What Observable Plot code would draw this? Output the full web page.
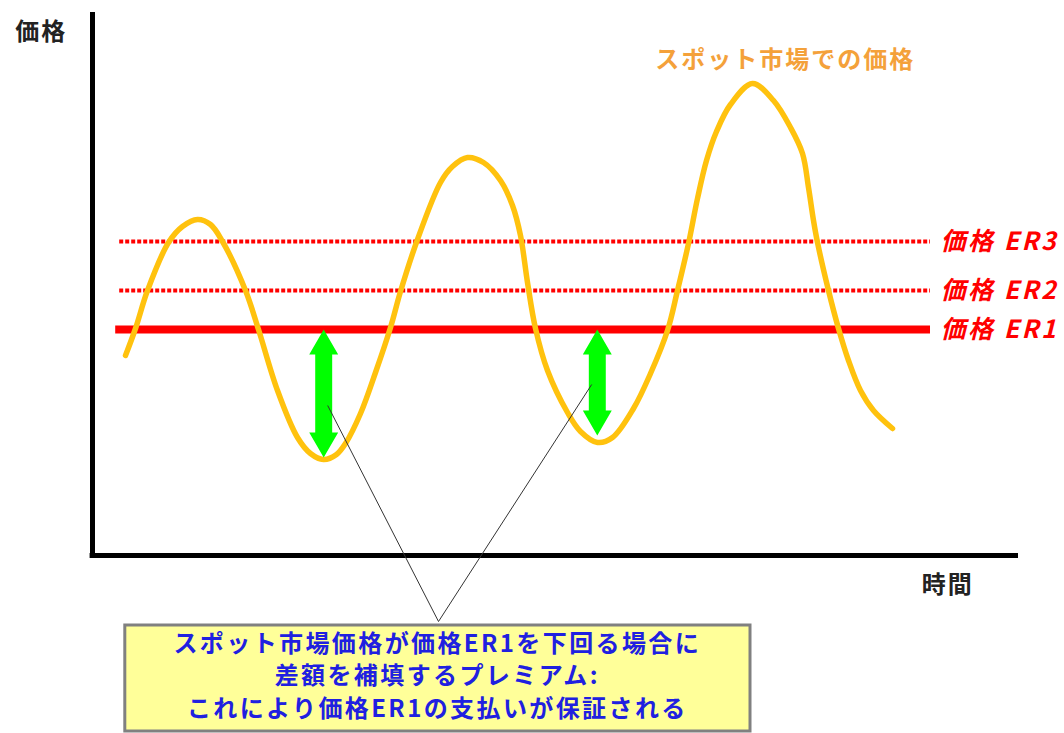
<!DOCTYPE html>
<html lang="ja">
<head>
<meta charset="utf-8">
<script src="https://cdn.jsdelivr.net/npm/d3@7"></script>
<script src="https://cdn.jsdelivr.net/npm/@observablehq/plot@0.6"></script>
<style>
  html, body { margin: 0; padding: 0; background: #fff; }
  #chart svg { display: block; }
</style>
</head>
<body>
<div id="chart"></div>
<script>
// Spot-market price over time (arbitrary time / price units)
const spotTime  = [4.125, 5.375, 6.875, 9.5, 11.25, 13.125, 14.75, 16.25, 19.125, 20.75, 23.125, 25.625, 27.25, 28.875, 30.5, 31.625, 33.5, 35.375, 37.25, 38.5, 40.625, 43.5, 45, 46.875, 48.875, 51, 52.5, 53.5, 54.375, 55.375, 56.875, 59.375, 61, 63.125, 65, 67.625, 69.75, 71.875, 73.125, 74.5, 75.625, 76.75, 78, 79.75, 82.5, 85.125, 87.25, 88.75, 89.5, 90.125, 90.625, 92, 93.25, 94.5, 96, 97.625, 100];
const spotPrice = [40, 45.4, 53, 62.6, 65.8, 67.2, 66.2, 62.8, 53, 45.2, 33, 23.6, 20.4, 19.2, 20.2, 22.4, 28.4, 36.6, 45.6, 52.8, 63.2, 74.6, 77.8, 79.6, 78.6, 75, 70, 64, 54.6, 45.4, 37, 28.6, 24.8, 22.6, 23.6, 29.4, 36.4, 45, 53, 62.4, 71.4, 79, 84.8, 90.2, 94.4, 91, 85.6, 80.4, 73.6, 67, 62.6, 53, 45.4, 39, 33, 29, 25.4];

// Guaranteed price levels
const levelNames = ["価格 ER1", "価格 ER2", "価格 ER3"];
const levelPrice = [45.2, 53, 62.8];
const levelSolid = [true, false, false];

// Premium arrows: where the spot price dips below ER1
const arrowTime = [28.9, 63.1];
const arrowLow  = [19.6, 24];

// Axis titles and annotation texts
const seriesLabel = "スポット市場での価格";
const yTitle = "価格";
const xTitle = "時間";
const noteLines = [
  "スポット市場価格が価格ER1を下回る場合に",
  "差額を補填するプレミアム:",
  "これにより価格ER1の支払いが保証される"
];

// ---- tables built from the arrays above ----
const spot = spotTime.map((t, i) => ({t, p: spotPrice[i]}));
const levels = levelNames.map((name, i) => ({name, p: levelPrice[i], solid: levelSolid[i]}));
const er1 = levelPrice[0];

// double-headed arrow outlines (shaft and head sizes in data units)
const shaftHalf = 1.06, headHalf = 1.81, headLen = 5;
const arrowShapes = arrowTime.flatMap((t, k) => {
  const top = er1, bot = arrowLow[k];
  const pts = [
    [t, top], [t + headHalf, top - headLen], [t + shaftHalf, top - headLen],
    [t + shaftHalf, bot + headLen], [t + headHalf, bot + headLen], [t, bot],
    [t - headHalf, bot + headLen], [t - shaftHalf, bot + headLen],
    [t - shaftHalf, top - headLen], [t - headHalf, top - headLen], [t, top]
  ];
  return pts.map(([x, y]) => ({k, x, y}));
});

// leader lines from each arrow to the note box
const apex = {t: 43.25, p: -13.2};
const leaderFrom = [{t: 29.4, p: 30}, {t: 62.4, p: 34.2}];
const leaders = leaderFrom.map(d => ({x1: d.t, y1: d.p, x2: apex.t, y2: apex.p}));

const box = [{x1: 4.1, x2: 82.25, y1: -14, y2: -35.2}];
const noteY = [-17.8, -24.2, -30.8];

const jp = "'Noto Sans CJK JP', 'Noto Sans', sans-serif";

const chart = Plot.plot({
  width: 1064,
  height: 733,
  marginLeft: 92,
  marginRight: 44,
  marginTop: 15,
  marginBottom: 178,
  x: {domain: [0, 116], axis: null},
  y: {domain: [0, 108], axis: null},
  marks: [
    // axes
    Plot.ruleX([0], {y1: 0, y2: 108.6, stroke: "#000", strokeWidth: 5}),
    Plot.ruleY([0], {x1: -0.3, x2: 115.75, stroke: "#000", strokeWidth: 5}),
    Plot.text([yTitle], {x: -6.4, y: 104.6, text: d => d, fontFamily: jp, fontWeight: "bold", fontSize: 24, fill: "#222", className: "wide"}),
    Plot.text([xTitle], {x: 106.9, y: -6, text: d => d, fontFamily: jp, fontWeight: "bold", fontSize: 24, fill: "#222", className: "wide"}),

    // price levels
    Plot.ruleY(levels.filter(d => !d.solid), {y: "p", x1: 3.4, x2: 104.75, stroke: "#ff0000", strokeWidth: 4, strokeDasharray: "4,2"}),
    Plot.ruleY(levels.filter(d => d.solid), {y: "p", x1: 2.9, x2: 104.75, stroke: "#ff0000", strokeWidth: 8}),
    Plot.text(levels, {x: 106, y: "p", text: "name", textAnchor: "start", fontFamily: jp, fontWeight: "bold", fontStyle: "italic", fontSize: 25, fill: "#ff0000", className: "er"}),

    // spot price curve
    Plot.line(spot, {x: "t", y: "p", curve: "catmull-rom", stroke: "#FFC20E", strokeWidth: 5.5}),
    Plot.text([seriesLabel], {x: 86.6, y: 99, text: d => d, fontFamily: jp, fontWeight: "bold", fontSize: 24, fill: "#F4A13A", className: "wide"}),

    // premium arrows
    Plot.line(arrowShapes, {x: "x", y: "y", z: "k", fill: "#00FF00", stroke: "none"}),

    // leader lines and note box
    Plot.link(leaders, {x1: "x1", y1: "y1", x2: "x2", y2: "y2", stroke: "#333", strokeWidth: 1}),
    Plot.rect(box, {x1: "x1", x2: "x2", y1: "y1", y2: "y2", fill: "#FFFF99", stroke: "#808080", strokeWidth: 3}),
    Plot.text(noteLines, {x: 43.1, y: (d, i) => noteY[i], text: d => d, fontFamily: jp, fontWeight: "bold", fontSize: 24, fill: "#2020E0", className: "note"})
  ]
});

d3.select(chart).selectAll(".wide text").style("letter-spacing", "2px");
d3.select(chart).selectAll(".er text").style("letter-spacing", "2.5px");
d3.select(chart).selectAll(".note text").style("letter-spacing", "2.4px");
document.getElementById("chart").appendChild(chart);
</script>
</body>
</html>
